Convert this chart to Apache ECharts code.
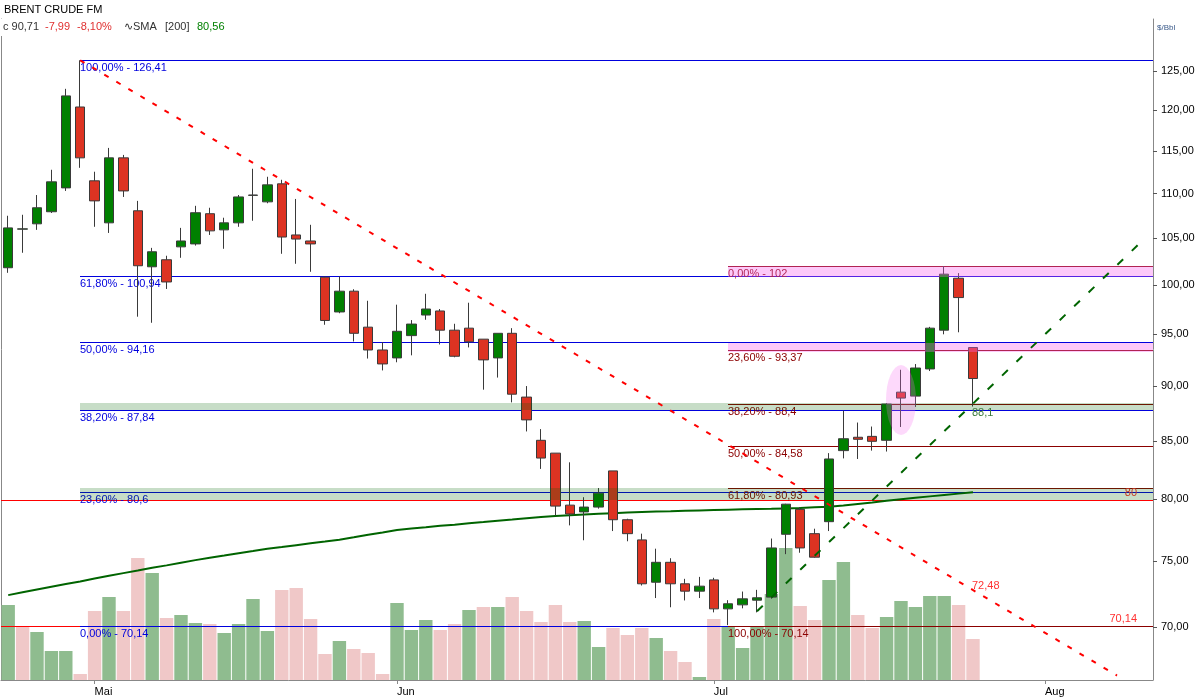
<!DOCTYPE html>
<html><head><meta charset="utf-8">
<script src="https://cdn.jsdelivr.net/npm/echarts@6/dist/echarts.min.js"></script>
<style>html,body{margin:0;padding:0;background:#fff}#c{width:1200px;height:700px}</style>
</head><body><div id="c"></div>
<script>
const FONT = '"Liberation Sans", Arial, sans-serif';

// ---- axis / categories ----
const monthNames = ['Mai', 'Jun', 'Jul', 'Aug'];
const monthStarts = [6, 27, 49, 72];
const slotCount = 80;
const categories = Array.from({length: slotCount}, (_, i) => 'T' + i);
const priceTicks = [70, 75, 80, 85, 90, 95, 100, 105, 110, 115, 120, 125];

// ---- OHLC ----
const opens = [101.82,106.00,106.59,107.94,110.66,120.40,111.48,106.70,114.18,108.05,
  101.92,102.67,104.06,104.38,107.72,105.92,106.70,109.80,109.06,111.13,
  105.36,104.70,100.82,97.23,99.36,95.70,93.45,92.68,94.86,96.92,
  97.33,95.40,95.60,94.51,92.68,95.09,88.97,85.05,83.92,79.49,
  78.93,79.33,82.38,78.29,76.66,73.35,74.89,73.23,72.67,73.53,
  71.34,71.64,71.99,72.22,77.11,79.14,77.16,78.13,84.14,85.32,
  85.40,85.05,89.43,89.06,91.62,95.40,100.71,93.69];
const closes = [106.14,106.03,108.39,111.36,121.80,114.18,109.17,114.18,110.31,102.03,
  103.53,100.32,104.70,107.83,105.81,106.70,109.62,109.84,111.01,105.13,
  104.91,104.38,96.37,99.36,95.09,93.45,92.10,95.29,96.01,97.53,
  95.40,92.84,94.25,92.49,95.09,89.24,86.88,83.49,79.41,78.76,
  79.33,80.49,78.29,77.16,73.23,74.89,73.23,72.67,73.05,71.34,
  71.72,72.09,72.17,76.02,79.57,76.02,75.29,83.41,85.19,85.14,
  84.96,88.33,88.88,91.71,95.60,101.14,98.70,90.71];
const lows = [101.28,103.42,105.92,107.80,110.31,113.00,106.26,105.58,109.62,96.75,
  96.14,99.59,102.88,104.20,105.36,103.85,106.26,106.93,108.90,103.31,
  102.24,101.39,95.94,97.10,94.28,92.62,91.48,92.26,92.93,96.44,
  93.99,92.74,93.70,89.66,90.80,88.48,85.84,82.55,78.63,77.83,
  76.63,79.20,77.37,76.55,73.10,72.15,71.46,71.97,72.15,71.08,
  70.14,71.38,71.08,72.10,75.53,75.64,75.25,77.37,83.46,83.41,
  84.14,84.06,86.24,88.06,91.42,94.99,95.19,88.10];
const highs = [107.49,107.60,109.84,112.77,122.70,126.41,112.54,115.37,114.53,109.17,
  103.95,103.10,106.14,108.61,108.39,107.27,109.84,112.89,111.95,111.60,
  109.39,106.48,100.90,100.89,99.56,98.37,94.22,97.97,96.41,99.09,
  97.53,96.04,98.17,94.51,95.09,95.60,90.00,86.05,83.92,83.12,
  80.15,80.92,82.38,78.37,77.16,75.96,75.21,73.61,73.76,73.69,
  71.99,72.64,72.77,76.77,79.60,79.33,77.56,83.92,87.72,86.64,
  86.28,88.40,91.54,92.09,95.73,102.00,101.25,93.70];

// ---- volume (relative units) ----
const volumes = [75,54,48,29,29,6,69,83,69,122,
  107,62,65,57,56,47,56,81,49,90,
  92,61,26,39,31,27,6,77,50,60,
  50,56,70,73,73,83,69,58,75,58,
  59,33,52,45,52,42,29,18,3,61,
  53,32,53,86,132,74,60,100,118,65,
  52,63,79,73,84,84,75,41];

// ---- SMA 200 ----
const sma200 = [72.37,72.58,72.79,73.00,73.21,73.41,73.63,73.84,74.05,74.25,
  74.46,74.65,74.86,75.06,75.25,75.42,75.60,75.77,75.95,76.09,
  76.24,76.39,76.53,76.68,76.87,77.07,77.26,77.46,77.58,77.68,
  77.79,77.89,78.00,78.10,78.21,78.30,78.41,78.51,78.59,78.66,
  78.72,78.78,78.83,78.88,78.93,78.97,78.99,79.02,79.05,79.08,
  79.11,79.14,79.17,79.19,79.22,79.25,79.31,79.36,79.46,79.58,
  79.70,79.85,79.98,80.10,80.22,80.34,80.45,80.56];

// ---- Fibonacci / levels ----
const fibHighValues = [126.41, 100.94, 94.16, 87.84, 80.6, 70.14];
const fibHighPcts = ['100,00%', '61,80%', '50,00%', '38,20%', '23,60%', '0,00%'];
const fibHighStart = 5;
const fibLowValues = [102, 93.37, 88.4, 84.58, 80.93, 70.14];
const fibLowPcts = ['0,00%', '23,60%', '38,20%', '50,00%', '61,80%', '100,00%'];
const fibLowStart = 50;
const redLevels = [80, 70.14];
const greenBands = [[87.84, 88.4], [80, 80.93]];
const greenBandStart = 5;
const pinkBands = [[100.94, 102], [93.37, 94.16]];
const pinkBandStart = 50;

// ---- trend lines & annotations ----
const downTrend = [[5, 126.41], [77, 66.55]];
const upTrend = [[52, 71.16], [79, 105.09]];
const highlight = [62, 88.7];
const notes = [[67, 72.48, '72,48'], [67, 88.1, '88,1']];
const noteColors = ['#ff3333', '#3d7b3d'];
const noteOffsets = [[-1, -8], [-1, 6]];

const fmt = v => String(v).replace('.', ',');

const levels = [];
redLevels.forEach(v => levels.push({start: null, value: v, color: '#ff0000', right: fmt(v), rightColor: '#ff3030'}));
fibHighValues.forEach((v, i) => levels.push({start: fibHighStart, value: v, color: '#0000dd', text: fibHighPcts[i] + ' - ' + fmt(v)}));
fibLowValues.forEach((v, i) => levels.push({start: fibLowStart, value: v, color: '#8b0000', text: fibLowPcts[i] + ' - ' + fmt(v)}));

const bands = [];
greenBands.forEach(b => bands.push({start: greenBandStart, lo: b[0], hi: b[1], fill: 'rgba(0,100,0,0.22)'}));
pinkBands.forEach(b => bands.push({start: pinkBandStart, lo: b[0], hi: b[1], fill: 'rgba(248,100,238,0.35)'}));

const chart = echarts.init(document.getElementById('c'), null, {renderer: 'canvas'});

const candleData = opens.map((o, i) => [o, closes[i], lows[i], highs[i]]);
const volData = volumes.map((v, i) => ({
  value: v,
  itemStyle: {color: (i === 0 || closes[i] >= closes[i - 1]) ? '#8fbc8f' : '#f0c8c8'}
}));

const option = {
  animation: false,
  backgroundColor: '#fff',
  textStyle: {fontFamily: FONT},
  grid: {left: 1, right: 47, top: 19, bottom: 20, containLabel: false, outerBoundsMode: 'none'},
  xAxis: {
    type: 'category', data: categories, boundaryGap: true,
    axisLine: {show: true, onZero: false, lineStyle: {color: '#888', width: 1}},
    axisTick: {show: true, alignWithLabel: true, length: 4, interval: i => monthStarts.includes(i), lineStyle: {color: '#888'}},
    axisLabel: {
      interval: i => monthStarts.includes(i),
      formatter: (v, i) => monthNames[monthStarts.indexOf(i)] || '',
      align: 'left', margin: 6, color: '#000', fontSize: 11, fontFamily: FONT
    },
    splitLine: {show: false}
  },
  yAxis: [
    {
      type: 'log', logBase: 10, position: 'right', min: 66.24, max: 131.97,
      axisLine: {show: true, lineStyle: {color: '#888', width: 1}},
      axisTick: {show: true, length: 4, customValues: priceTicks, lineStyle: {color: '#555'}},
      axisLabel: {customValues: priceTicks, formatter: v => Number(v).toFixed(2).replace('.', ','), color: '#000', fontSize: 11, fontFamily: FONT, margin: 8},
      splitLine: {show: false}, minorTick: {show: false}, minorSplitLine: {show: false}
    },
    {
      type: 'value', position: 'left', min: 0, max: 661,
      axisLine: {show: true, lineStyle: {color: '#888', width: 1}},
      axisTick: {show: false}, axisLabel: {show: false}, splitLine: {show: false}
    }
  ],
  series: [
    {
      name: 'Volume', type: 'bar', xAxisIndex: 0, yAxisIndex: 1, data: volData,
      barCategoryGap: '7%', z: 1, silent: true
    },
    {
      name: 'levels', type: 'custom', xAxisIndex: 0, yAxisIndex: 0, z: 2, silent: true, clip: false,
      data: levels.map(L => [L.start == null ? 0 : L.start, L.value]),
      renderItem: (params, api) => {
        const L = levels[params.dataIndex];
        const cs = params.coordSys;
        const p = api.coord([L.start == null ? 0 : L.start, L.value]);
        const x0 = Math.round(L.start == null ? cs.x : p[0]);
        const x1 = Math.round(cs.x + cs.width);
        const y = 2 * Math.round(p[1] / 2);
        const children = [{type: 'rect', z2: 1, shape: {x: x0, y: y, width: x1 - x0, height: 1}, style: {fill: L.color, stroke: null}}];
        if (L.text) children.push({type: 'text', z2: 20, x: x0, y: y + 8, style: {text: L.text, fill: L.color, font: '11px ' + FONT, align: 'left', verticalAlign: 'middle'}});
        if (L.right) children.push({type: 'text', z2: 20, x: x1 - 16, y: y - 7, style: {text: L.right, fill: L.rightColor, font: '11px ' + FONT, align: 'right', verticalAlign: 'middle'}});
        return {type: 'group', children};
      }
    },
    {
      name: 'SMA 200', type: 'line', data: sma200, symbol: 'none', z: 3, silent: true,
      lineStyle: {color: '#006400', width: 2}
    },
    {
      name: 'BRENT', type: 'candlestick', data: candleData, barWidth: 10, z: 4,
      itemStyle: {color: '#008000', color0: '#dd3322', borderColor: '#3a3a3a', borderColor0: '#3a3a3a', borderColorDoji: '#3a3a3a', borderWidth: 1}
    },
    {
      name: 'bands', type: 'custom', xAxisIndex: 0, yAxisIndex: 0, z: 5, silent: true, clip: false,
      data: bands.map(b => [b.start, b.hi]),
      renderItem: (params, api) => {
        const B = bands[params.dataIndex];
        const cs = params.coordSys;
        const pHi = api.coord([B.start, B.hi]);
        const pLo = api.coord([B.start, B.lo]);
        const x0 = Math.round(pHi[0]);
        const x1 = Math.round(cs.x + cs.width);
        const yT = Math.round(pHi[1]);
        const yB = Math.round(pLo[1]) + 1;
        return {type: 'rect', shape: {x: x0, y: yT, width: x1 - x0, height: yB - yT}, style: {fill: B.fill}};
      }
    },
    {
      name: 'Downtrend', type: 'line', data: downTrend, symbol: 'none', z: 6, silent: true,
      lineStyle: {color: '#ff0000', width: 2, type: [5, 9]}
    },
    {
      name: 'Uptrend', type: 'line', data: upTrend, symbol: 'none', z: 6, silent: true,
      lineStyle: {color: '#006400', width: 2, type: [8, 12]}
    },
    {
      name: 'notes', type: 'custom', z: 7, silent: true, clip: false,
      data: notes.map(n => [n[0], n[1]]),
      renderItem: (params, api) => {
        const n = notes[params.dataIndex];
        const p = api.coord([n[0], n[1]]);
        const off = noteOffsets[params.dataIndex];
        return {type: 'text', x: p[0] + off[0], y: p[1] + off[1], style: {text: n[2], fill: noteColors[params.dataIndex], font: '11px ' + FONT, align: 'left', verticalAlign: 'middle'}};
      }
    },
    {
      name: 'highlight', type: 'scatter', data: [highlight], symbol: 'circle', symbolSize: [30, 70], z: 8, silent: true,
      itemStyle: {color: 'rgba(248,110,240,0.32)'}
    }
  ],
  graphic: [
    {type: 'rect', shape: {x: 0, y: 19, width: 228, height: 17}, style: {fill: '#fff'}, z: 100},
    {type: 'text', x: 4, y: 10, z: 101, style: {text: 'BRENT CRUDE FM', font: '11px ' + FONT, fill: '#000', verticalAlign: 'middle'}},
    {type: 'text', x: 3, y: 27, z: 101, style: {text: 'c 90,71', font: '11px ' + FONT, fill: '#333', verticalAlign: 'middle'}},
    {type: 'text', x: 45, y: 27, z: 101, style: {text: '-7,99', font: '11px ' + FONT, fill: '#e03030', verticalAlign: 'middle'}},
    {type: 'text', x: 77, y: 27, z: 101, style: {text: '-8,10%', font: '11px ' + FONT, fill: '#e03030', verticalAlign: 'middle'}},
    {type: 'text', x: 124, y: 27, z: 101, style: {text: '\u223FSMA', font: '11px ' + FONT, fill: '#333', verticalAlign: 'middle'}},
    {type: 'text', x: 165, y: 27, z: 101, style: {text: '[200]', font: '11px ' + FONT, fill: '#333', verticalAlign: 'middle'}},
    {type: 'text', x: 197, y: 27, z: 101, style: {text: '80,56', font: '11px ' + FONT, fill: '#008000', verticalAlign: 'middle'}},
    {type: 'text', x: 1157, y: 28, z: 101, style: {text: '$/Bbl', font: '8px ' + FONT, fill: '#3a5a8a', verticalAlign: 'middle'}}
  ]
};
chart.setOption(option);
</script>
</body></html>
